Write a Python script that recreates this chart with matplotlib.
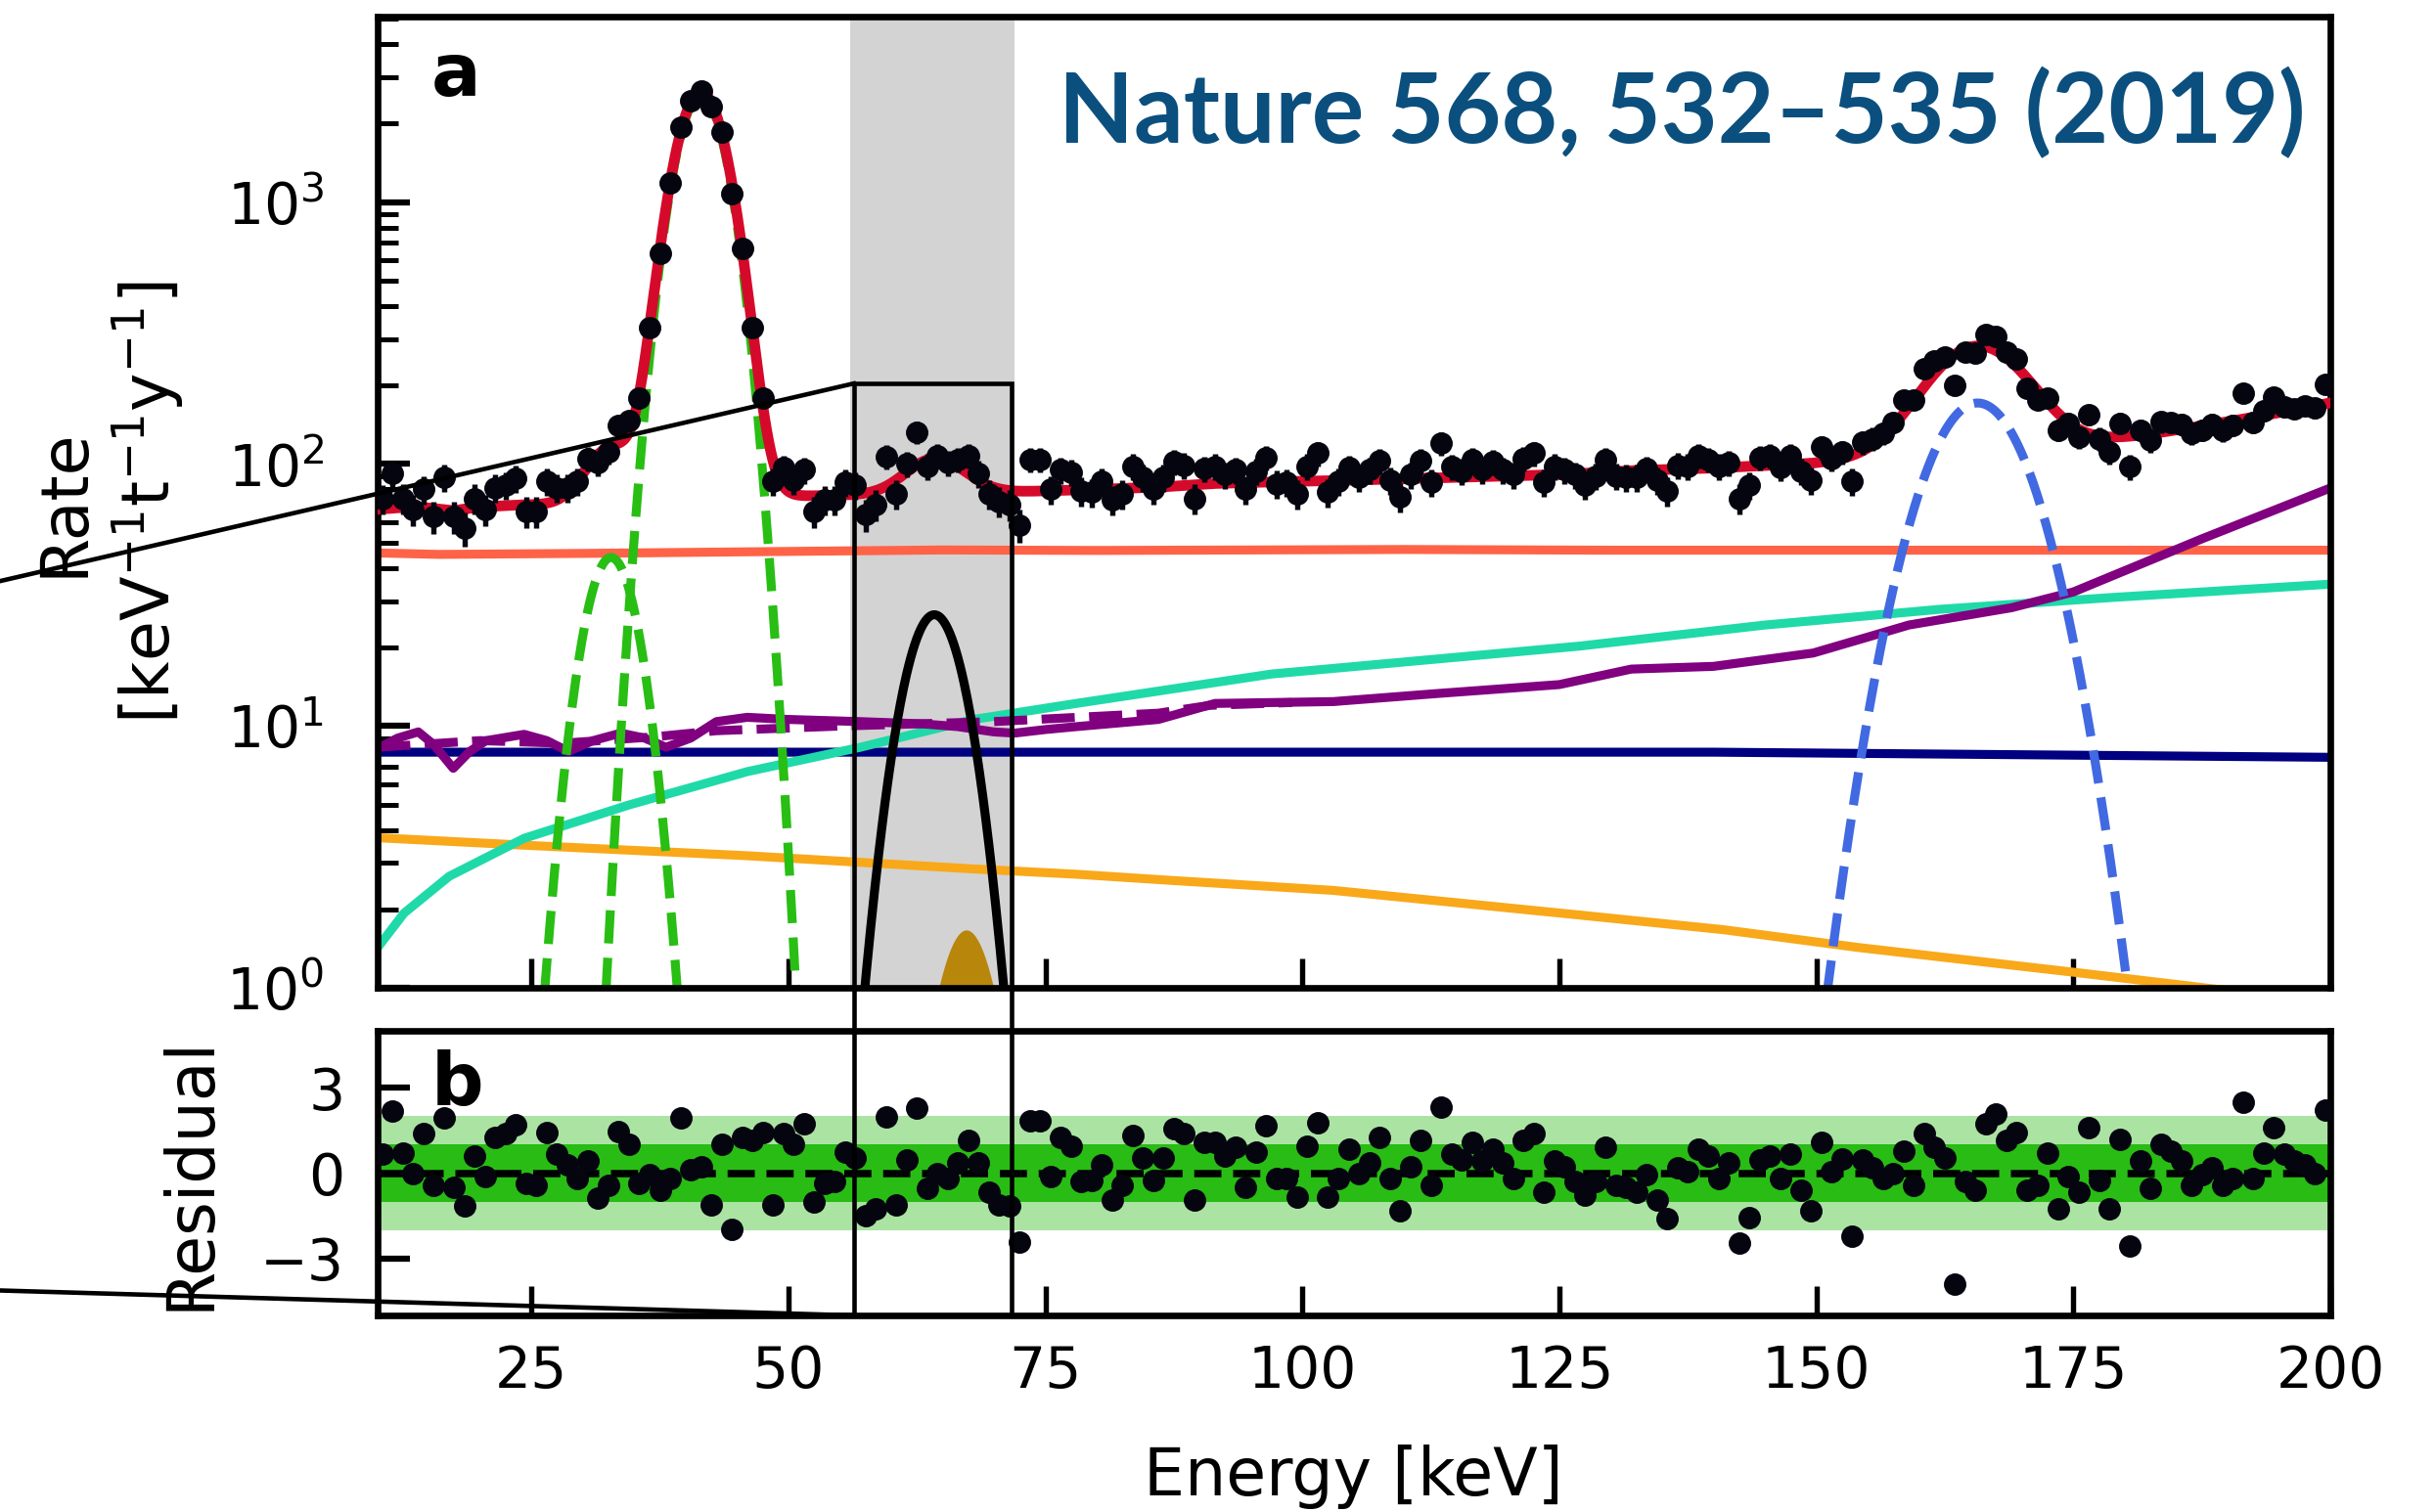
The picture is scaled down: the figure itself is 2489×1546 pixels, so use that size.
import numpy as np
import matplotlib.pyplot as plt
from matplotlib.lines import Line2D
from matplotlib.patches import Rectangle
from matplotlib.ticker import MultipleLocator

# 1 keV bins, 10-200 keV
energy = np.arange(10.5, 200.0, 1.0)

rate = [73.6, 92, 74, 67, 80, 63, 89, 63, 57, 74,
        67, 81, 83, 88, 66, 66, 86, 81, 81, 86,
        105, 101, 111, 140, 146, 178, 331, 638, 1180, 1936,
        2430, 2650, 2323, 1857, 1072, 664, 333, 179, 86, 97,
        87, 95, 66, 73, 73, 85, 83, 64, 70, 107,
        77, 100, 132, 98, 108, 101, 104, 108, 92, 77,
        72, 70, 58.5, 104, 104, 80, 95, 93, 79, 78,
        86, 73, 77, 98, 89, 80, 89, 102, 99, 74,
        96, 98, 91, 95, 80, 94, 106, 84, 85, 77,
        98, 110, 78, 86, 97, 89, 95, 103, 87, 75,
        91, 103, 85, 120, 97.5, 94, 104, 95, 102, 95,
        91, 105, 110, 85, 98, 95, 91, 83, 90, 104,
        90, 89, 89, 96, 87, 79, 99, 98, 108, 104,
        98, 101, 74, 83, 106, 108, 97, 108, 94, 87,
        116, 105, 111, 86, 121, 125, 131, 144, 176, 176,
        231, 248, 256, 199, 267, 265, 313, 306, 268, 251,
        195, 176, 179, 135, 143, 127, 154, 125, 111, 143,
        97.5, 135, 123, 145, 144, 142, 131, 135, 142, 134,
        141, 187, 144, 160, 180, 165, 163, 167, 164, 202]

resid = [0.66, 2.19, 0.7, 0.0, 1.38, -0.42, 1.95, -0.48, -1.16, 0.6,
         -0.12, 1.26, 1.38, 1.71, -0.36, -0.42, 1.44, 0.66, 0.3, -0.18,
         0.42, -0.87, -0.44, 1.47, 1.02, -0.36, -0.06, -0.6, -0.18, 1.95,
         0.12, 0.24, -1.11, 1.02, -1.97, 1.26, 1.14, 1.44, -1.11, 1.38,
         1.02, 1.73, -1.02, -0.36, -0.3, 0.75, 0.54, -1.5, -1.26, 1.97,
         -1.11, 0.48, 2.27, -0.54, 0.0, -0.18, 0.36, 1.16, 0.36, -0.68,
         -1.11, -1.16, -2.43, 1.85, 1.85, -0.12, 1.26, 0.96, -0.3, -0.24,
         0.3, -0.96, -0.42, 1.32, 0.54, -0.24, 0.54, 1.56, 1.38, -0.96,
         1.1, 1.1, 0.6, 0.9, -0.48, 0.75, 1.67, -0.18, -0.18, -0.84,
         0.96, 1.76, -0.84, -0.18, 0.84, 0.0, 0.36, 1.26, -0.18, -1.32,
         0.24, 1.14, -0.42, 2.31, 0.66, 0.48, 1.08, 0.42, 0.84, 0.36,
         -0.18, 1.14, 1.38, -0.66, 0.42, 0.24, -0.3, -0.78, -0.3, 0.9,
         -0.42, -0.48, -0.66, -0.06, -0.96, -1.61, 0.18, 0.06, 0.84, 0.6,
         -0.18, 0.36, -2.45, -1.56, 0.48, 0.6, -0.18, 0.66, -0.6, -1.32,
         1.08, 0.06, 0.5, -2.21, 0.48, 0.18, -0.18, 0.0, 0.78, -0.42,
         1.38, 0.9, 0.54, -3.89, -0.3, -0.6, 1.73, 2.09, 1.14, 1.44,
         -0.6, -0.42, 0.72, -1.26, -0.12, -0.66, 1.61, -0.24, -1.26, 1.2,
         -2.57, 0.42, -0.54, 1.02, 0.78, 0.42, -0.42, -0.06, 0.18, -0.42,
         -0.18, 2.51, -0.18, 0.72, 1.61, 0.66, 0.42, 0.3, 0.0, 2.21]

exposure = 0.8  # t*y per keV bin, sets the Poisson error bars

# background components, knots
salmon_e = [10, 16, 30, 45, 65, 80, 110, 130, 200]
salmon_r = [45.8, 45.2, 45.6, 46.2, 47.0, 46.8, 47.2, 46.9, 46.9]

navy_e = [10, 100, 140, 200]
navy_r = [7.95, 7.95, 7.95, 7.6]

orange_e = [10, 25, 46, 68, 78, 87, 103, 127, 141, 154, 175, 188, 200]
orange_r = [3.75, 3.5, 3.2, 2.85, 2.72, 2.58, 2.36, 1.9, 1.67, 1.43, 1.15, 1.0, 0.88]

teal_e = [10, 12.6, 17, 24.3, 34.5, 46, 57, 68, 78, 97, 127, 145, 162, 179, 200]
teal_r = [1.42, 1.93, 2.67, 3.73, 5.0, 6.7, 8.3, 10.6, 12.2, 15.8, 20.2, 24.3, 27.9, 31.0, 34.8]

purple_e = [10, 12, 14, 15.5, 17.4, 19, 20.6, 24.3, 26.5, 28.6, 31, 33.7, 36, 38.1, 40.5,
            43, 46, 50, 57, 63, 66.5, 70, 72, 75, 78, 86, 91.5, 103, 113, 125, 132, 140,
            149.7, 159, 169, 175, 187.6, 200]
purple_r = [8.2, 9.0, 9.5, 8.5, 6.9, 8.0, 8.8, 9.3, 8.8, 8.0, 8.8, 9.4, 9.0, 8.3, 9.0,
            10.4, 10.8, 10.6, 10.4, 10.2, 9.95, 9.5, 9.4, 9.7, 9.95, 10.6, 12.2, 12.4, 13.3,
            14.4, 16.5, 16.9, 19.0, 24.3, 28.3, 32.5, 52, 81]

purple2_e = [10, 20, 28, 37, 43, 55, 70, 86, 91, 99]
purple2_r = [8.3, 8.8, 8.6, 9.1, 9.6, 10.0, 10.4, 11.2, 12.0, 12.3]

# gaussian lines: centre [keV], height, sigma [keV]
green_c = [32.75, 41.5]
green_h = [44, 2550]
green_s = [2.34, 2.33]
blue_peak = (165.7, 171, 4.55)
signal_peak = (64.2, 26.6, 2.64)
gold_peak = (67.35, 1.66, 2.64)


def gauss(e, peak):
    c, h, s = peak
    return h * np.exp(-0.5 * ((e - c) / s) ** 2)


def knots(e, ke, kr):
    return np.exp(np.interp(e, ke, np.log(kr)))


W, H = 2489, 1546
fig = plt.figure(figsize=(W / 300, H / 300), dpi=300)
ax = fig.add_axes([0.1549, 0.3465, 0.8021, 0.6425])
axr = fig.add_axes([0.1549, 0.130, 0.8021, 0.1882])

e = np.linspace(10, 200, 1901)

ax.axvspan(56, 72, color='#d3d3d3', lw=0, zorder=0)

lw = 2.2
ax.plot(salmon_e, salmon_r, color='#ff6347', lw=lw, zorder=2)
ax.plot(navy_e, navy_r, color='#000080', lw=lw, zorder=2)
ax.plot(orange_e, orange_r, color='#f9a81a', lw=lw, zorder=2)
ax.plot(teal_e, teal_r, color='#1fdaa8', lw=lw, zorder=2)
ax.plot(purple_e, purple_r, color='#800080', lw=lw, zorder=2)
ax.plot(purple2_e, purple2_r, color='#800080', lw=lw, ls='--', zorder=2)

for c, h, s in zip(green_c, green_h, green_s):
    ax.plot(e, gauss(e, (c, h, s)), color='#28be14', lw=lw, ls='--', zorder=2)
ax.plot(e, gauss(e, blue_peak), color='#4169e1', lw=lw, ls='--', zorder=2)
ax.plot(e, gauss(e, signal_peak), color='black', lw=lw, zorder=2)
ax.fill_between(e, 1e-3, gauss(e, gold_peak), color='#b8860b', lw=0, zorder=2)

total = (knots(e, salmon_e, salmon_r) + knots(e, navy_e, navy_r) + knots(e, orange_e, orange_r)
         + knots(e, teal_e, teal_r) + knots(e, purple_e, purple_r)
         + gauss(e, signal_peak) + gauss(e, blue_peak) + gauss(e, gold_peak))
for c, h, s in zip(green_c, green_h, green_s):
    total = total + gauss(e, (c, h, s))
ax.plot(e, total, color='#d50a2a', lw=2.6, zorder=3)

rate = np.array(rate)
ax.errorbar(energy, rate, yerr=np.sqrt(rate / exposure), fmt='o', color='#05050f',
            ms=4.5, elinewidth=1.3, capsize=0, zorder=4)

ax.set_yscale('log')
ax.set_xlim(10, 200)
ax.set_ylim(1, 5100)
ax.xaxis.set_major_locator(MultipleLocator(25))
ax.tick_params(axis='both', which='major', direction='in', labelsize=14, width=1.5, length=8)
ax.tick_params(axis='y', which='minor', direction='in', width=1.2, length=5)
ax.tick_params(axis='y', which='major', pad=13)
ax.tick_params(axis='x', labelbottom=False, length=7.3, width=1.3)
ax.set_ylabel('Rate\n[keV$^{-1}$t$^{-1}$y$^{-1}$]', fontsize=16)
ax.yaxis.set_label_coords(-0.098, 0.5)
ax.text(0.0278, 0.918, 'a', transform=ax.transAxes, fontsize=18, fontweight='bold',
        ha='left', va='baseline')
ax.text(0.9875, 0.870, 'Nature 568, 532\u2013535 (2019)', transform=ax.transAxes,
        fontsize=24, fontweight='bold', family='Lato', color='#0b4f7e',
        ha='right', va='baseline')

axr.axhspan(-2, 2, color='#abe3a3', lw=0, zorder=0)
axr.axhspan(-1, 1, color='#28bc14', lw=0, zorder=1)
axr.axhline(0, color='black', ls='--', lw=1.8, zorder=2)
axr.plot(energy, resid, 'o', color='#05050f', ms=4.5, zorder=3)
axr.set_xlim(10, 200)
axr.set_ylim(-5, 5)
axr.set_yticks([-3, 0, 3])
axr.xaxis.set_major_locator(MultipleLocator(25))
axr.tick_params(axis='both', direction='in', labelsize=14, width=1.5, length=8)
axr.tick_params(axis='x', pad=7, length=7.3, width=1.3)
axr.tick_params(axis='y', pad=8)
axr.set_ylabel('Residual', fontsize=16)
axr.yaxis.set_label_coords(-0.079, 0.5)
axr.set_xlabel('Energy [keV]', fontsize=16)
axr.xaxis.set_label_coords(0.5, -0.454)
axr.text(0.0278, 0.739, 'b', transform=axr.transAxes, fontsize=18, fontweight='bold',
         ha='left', va='baseline')

for a in (ax, axr):
    for sp in a.spines.values():
        sp.set_linewidth(1.6)

# zoom box spanning both panels, with connector lines to an inset off the left edge
to_fig = fig.transFigure.inverted()
tl = to_fig.transform(ax.transData.transform((56.36, 203)))
br = to_fig.transform(axr.transData.transform((71.74, -5)))
fig.add_artist(Rectangle((tl[0], br[1]), br[0] - tl[0], tl[1] - br[1], transform=fig.transFigure,
                         fill=False, ec='black', lw=1.1, zorder=5))
inset_x = -0.35
inset_top, inset_bottom = 0.4852, 0.163
fig.add_artist(Line2D([tl[0], inset_x], [tl[1], inset_top], transform=fig.transFigure,
                      color='black', lw=1.1, zorder=5))
fig.add_artist(Line2D([tl[0], inset_x], [br[1], inset_bottom], transform=fig.transFigure,
                      color='black', lw=1.1, zorder=5))

fig.savefig('out.png', dpi=300)
